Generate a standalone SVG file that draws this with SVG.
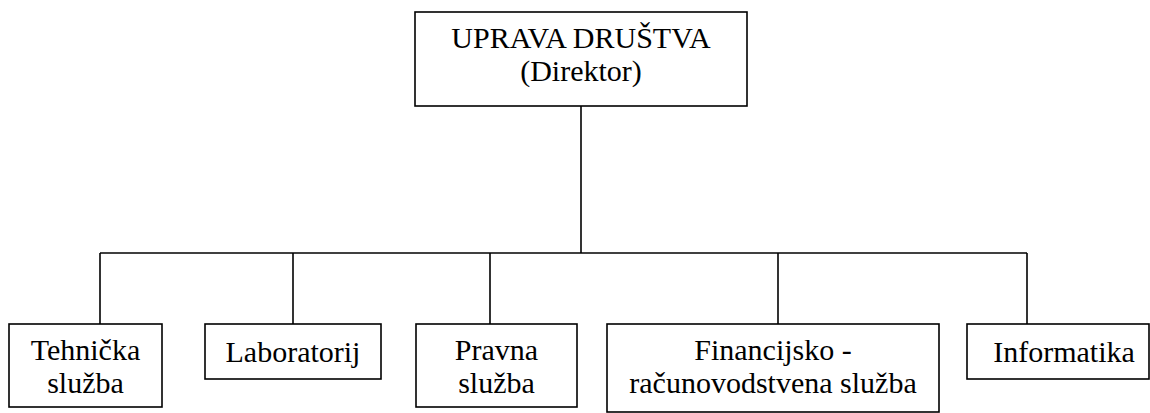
<svg xmlns="http://www.w3.org/2000/svg" width="1150" height="413" viewBox="0 0 1150 413">
<style>
.box{fill:#fff;stroke:#000;stroke-width:1.6}
.ln{stroke:#000;stroke-width:1.6;fill:none}
.lbl{font-family:Liberation Serif, serif;font-size:30px;fill:#000;text-anchor:middle}
</style>
<rect width="1150" height="413" fill="#fff"/>
<g id="connectors">
<path class="ln" d="M581,106 V253"/>
<path class="ln" d="M100,253 H1027"/>
<path class="ln" d="M100,253 V324"/>
<path class="ln" d="M293,253 V324"/>
<path class="ln" d="M490,253 V324"/>
<path class="ln" d="M778,253 V324"/>
<path class="ln" d="M1027,253 V324"/>
</g>
<g id="uprava" class="lbl" font-family="Liberation Serif, serif">
<rect class="box" x="415" y="12" width="332" height="94"/>
<text x="581" y="48">UPRAVA DRUŠTVA</text>
<text x="581" y="81">(Direktor)</text>
</g>
<g id="tehnicka" class="lbl" font-family="Liberation Serif, serif">
<rect class="box" x="9" y="324" width="153" height="83"/>
<text x="85.5" y="360">Tehnička</text>
<text x="85.5" y="393">služba</text>
</g>
<g id="laboratorij" class="lbl" font-family="Liberation Serif, serif">
<rect class="box" x="205" y="324" width="176" height="55"/>
<text x="293" y="362">Laboratorij</text>
</g>
<g id="pravna" class="lbl" font-family="Liberation Serif, serif">
<rect class="box" x="416" y="324" width="161" height="83"/>
<text x="496.5" y="360">Pravna</text>
<text x="496.5" y="393">služba</text>
</g>
<g id="financijsko" class="lbl" font-family="Liberation Serif, serif">
<rect class="box" x="607" y="324" width="332" height="88"/>
<text x="773" y="360">Financijsko -</text>
<text x="773" y="393">računovodstvena služba</text>
</g>
<g id="informatika" class="lbl" font-family="Liberation Serif, serif">
<rect class="box" x="967" y="324" width="182" height="55"/>
<text x="1064" y="362">Informatika</text>
</g>
</svg>
